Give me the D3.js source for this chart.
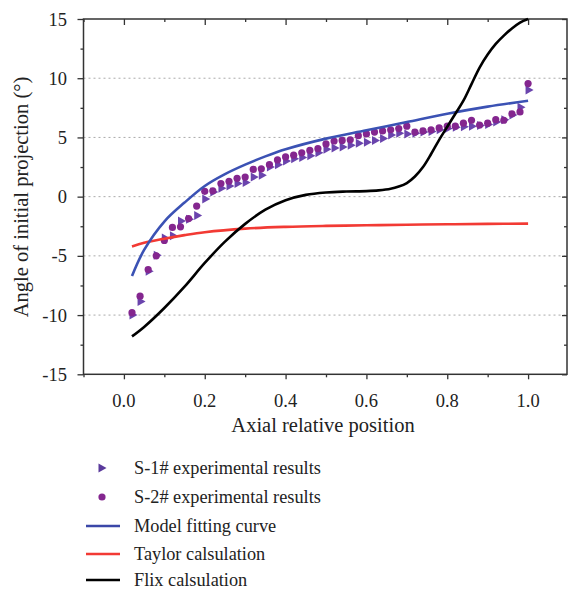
<!DOCTYPE html>
<html>
<head>
<meta charset="utf-8">
<script src="https://d3js.org/d3.v7.min.js"></script>
<style>
body { margin: 0; background: #fff; }
text { font-family: "Liberation Serif", "DejaVu Serif", serif; fill: #222; }
</style>
</head>
<body>
<div id="chart"></div>
<script>
// x positions of the measured points
var xs = d3.range(1, 51).map(function(i) { return i / 50; });

// S-1# experimental results (triangles)
var s1 = [-10.0, -8.85, -6.3, -4.95, -3.5, -3.3, -2.05, -1.9, -1.6, -0.2,
          0.4, 0.7, 0.9, 1.1, 1.2, 1.65, 1.8, 2.5, 2.7, 3.0,
          3.2, 3.3, 3.45, 3.7, 4.0, 4.1, 4.2, 4.35, 4.5, 4.6,
          4.75, 4.9, 5.2, 5.35, 5.3, 5.35, 5.45, 5.5, 5.65, 5.75,
          5.85, 5.9, 5.95, 6.0, 6.1, 6.3, 6.5, 6.9, 7.55, 9.0];

// S-2# experimental results (circles)
var s2 = [-9.8, -8.4, -6.15, -5.0, -3.7, -2.6, -2.55, -1.85, -0.8, 0.45,
          0.5, 1.1, 1.3, 1.55, 1.65, 2.3, 2.35, 2.7, 3.1, 3.35,
          3.5, 3.7, 3.9, 4.05, 4.45, 4.7, 4.75, 4.8, 5.15, 5.3,
          5.45, 5.55, 5.65, 5.75, 5.95, 5.45, 5.55, 5.65, 5.8, 5.95,
          5.95, 6.2, 6.45, 6.05, 6.2, 6.5, 6.45, 7.0, 7.15, 9.55];

// model fitting curve
var modelX = [0.02, 0.05, 0.1, 0.15, 0.2, 0.25, 0.3, 0.35, 0.4, 0.5, 0.6, 0.7, 0.8, 0.9, 1.0];
var modelY = [-6.7, -4.5, -2.1, -0.5, 0.9, 1.9, 2.7, 3.4, 4.0, 4.9, 5.6, 6.3, 7.0, 7.6, 8.1];

// Taylor calsulation
var taylorX = [0.02, 0.05, 0.1, 0.15, 0.2, 0.3, 0.4, 0.5, 0.6, 0.7, 0.8, 0.9, 1.0];
var taylorY = [-4.2, -3.9, -3.55, -3.25, -3.0, -2.7, -2.55, -2.47, -2.42, -2.37, -2.33, -2.3, -2.28];

// Flix calsulation
var flixX = [0.02, 0.05, 0.1, 0.15, 0.2, 0.25, 0.3, 0.35, 0.4, 0.45, 0.5, 0.55, 0.6, 0.63,
             0.66, 0.68, 0.7, 0.72, 0.74, 0.76, 0.78, 0.8, 0.82, 0.84, 0.86, 0.88, 0.9, 0.92,
             0.94, 0.96, 0.98, 1.0];
var flixY = [-11.8, -11.0, -9.4, -7.6, -5.6, -3.8, -2.3, -1.1, -0.3, 0.15, 0.35, 0.43, 0.47, 0.53,
             0.66, 0.85, 1.15, 1.7, 2.5, 3.6, 4.8, 5.9, 7.0, 8.1, 9.5, 10.9, 12.0, 12.9,
             13.6, 14.2, 14.7, 15.0];

var xTicks = [0.0, 0.2, 0.4, 0.6, 0.8, 1.0];
var yTicks = [-15, -10, -5, 0, 5, 10, 15];
var gridVals = [-10, -5, 0, 5, 10];

var legendItems = [
  { label: "S-1# experimental results", type: "tri" },
  { label: "S-2# experimental results", type: "dot" },
  { label: "Model fitting curve", type: "line", color: "#3b47a8" },
  { label: "Taylor calsulation", type: "line", color: "#f23a34" },
  { label: "Flix calsulation", type: "line", color: "#000" }
];

var W = 568, H = 592;
var box = { l: 83.5, r: 567, t: 19, b: 374.3 };

var svg = d3.select("#chart").append("svg")
  .attr("width", W).attr("height", H);

var x = d3.scaleLinear().domain([-0.1, 1.1]).range([box.l, box.r + 1.5]);
var y = d3.scaleLinear().domain([-15, 15]).range([box.b, box.t]);

// gridlines
svg.append("g").selectAll("line")
  .data(gridVals).enter().append("line")
  .attr("x1", box.l).attr("x2", box.r)
  .attr("y1", function(d) { return y(d); })
  .attr("y2", function(d) { return y(d); })
  .attr("stroke", "#aaa").attr("stroke-width", 1)
  .attr("stroke-dasharray", "2,3");

var axisColor = "#333";
var xMinor = d3.range(-1, 11).map(function(i) { return i / 10; });
var yMinor = d3.range(-6, 7).map(function(i) { return i * 2.5; });

// bottom axis, ticks outward
var bAx = svg.append("g").attr("transform", "translate(0," + box.b + ")");
bAx.call(d3.axisBottom(x).tickValues(xMinor).tickSize(5).tickFormat(""));
bAx.selectAll(".tick line").attr("y2", function(d) {
  return Math.round(d * 10) % 2 === 0 ? 5 : 3; });
bAx.select(".domain").remove();
bAx.selectAll("line").attr("stroke", axisColor).attr("stroke-width", 1.3);

// top axis, ticks inward
var tAx = svg.append("g").attr("transform", "translate(0," + box.t + ")");
tAx.call(d3.axisBottom(x).tickValues(xMinor).tickSize(6).tickFormat(""));
tAx.selectAll(".tick line").attr("y2", function(d) {
  return Math.round(d * 10) % 2 === 0 ? 6 : 3; });
tAx.select(".domain").remove();
tAx.selectAll("line").attr("stroke", axisColor).attr("stroke-width", 1.3);

// left axis, ticks outward
var lAx = svg.append("g").attr("transform", "translate(" + box.l + ",0)");
lAx.call(d3.axisLeft(y).tickValues(yMinor).tickSize(6).tickFormat(""));
lAx.selectAll(".tick line").attr("x2", function(d) {
  return d % 5 === 0 ? -6 : -3; });
lAx.select(".domain").remove();
lAx.selectAll("line").attr("stroke", axisColor).attr("stroke-width", 1.3);

// right axis, ticks inward
var rAx = svg.append("g").attr("transform", "translate(" + box.r + ",0)");
rAx.call(d3.axisLeft(y).tickValues(yMinor).tickSize(5).tickFormat(""));
rAx.selectAll(".tick line").attr("x2", function(d) {
  return d % 5 === 0 ? -5 : -3; });
rAx.select(".domain").remove();
rAx.selectAll("line").attr("stroke", axisColor).attr("stroke-width", 1.3);

// frame
svg.append("rect")
  .attr("x", box.l).attr("y", box.t)
  .attr("width", box.r - box.l).attr("height", box.b - box.t)
  .attr("fill", "none").attr("stroke", axisColor).attr("stroke-width", 1.5);

// tick labels
svg.append("g").selectAll("text")
  .data(xTicks).enter().append("text")
  .attr("x", function(d) { return x(d); })
  .attr("y", 407)
  .attr("text-anchor", "middle")
  .attr("font-size", 18.5)
  .text(function(d) { return d.toFixed(1); });

svg.append("g").selectAll("text")
  .data(yTicks).enter().append("text")
  .attr("x", 67)
  .attr("y", function(d) { return y(d) + 6.5; })
  .attr("text-anchor", "end")
  .attr("font-size", 18.5)
  .text(function(d) { return d; });

// axis titles
svg.append("text")
  .attr("x", 323).attr("y", 432)
  .attr("text-anchor", "middle")
  .attr("font-size", 20.5)
  .text("Axial relative position");

svg.append("text")
  .attr("transform", "translate(28,197) rotate(-90)")
  .attr("text-anchor", "middle")
  .attr("font-size", 20.5)
  .text("Angle of initial projection (°)");

// curves
var line = d3.line()
  .x(function(d) { return x(d[0]); })
  .y(function(d) { return y(d[1]); })
  .curve(d3.curveCatmullRom.alpha(0.5));

function drawCurve(xv, yv, color) {
  svg.append("path")
    .datum(d3.zip(xv, yv))
    .attr("d", line)
    .attr("fill", "none")
    .attr("stroke", color)
    .attr("stroke-width", 2.6);
}

var triPath = "M-3.5,-4.5 L4.5,0 L-3.5,4.5 Z";

// points
svg.append("g").selectAll("path")
  .data(d3.zip(xs, s1)).enter().append("path")
  .attr("d", triPath)
  .attr("transform", function(d) { return "translate(" + (x(d[0]) + 1) + "," + y(d[1]) + ")"; })
  .attr("fill", "#6a44ad");

svg.append("g").selectAll("circle")
  .data(d3.zip(xs, s2)).enter().append("circle")
  .attr("cx", function(d) { return x(d[0]); })
  .attr("cy", function(d) { return y(d[1]); })
  .attr("r", 3.6)
  .attr("fill", "#84268f");

drawCurve(taylorX, taylorY, "#f23a34");
drawCurve(modelX, modelY, "#3b52b4");
drawCurve(flixX, flixY, "#000");

// legend
var rowY = [468, 497, 526, 554, 580];
var lg = svg.append("g");
legendItems.forEach(function(it, i) {
  var cy = rowY[i];
  if (it.type === "tri") {
    lg.append("path").attr("d", triPath)
      .attr("transform", "translate(102," + cy + ")")
      .attr("fill", "#5a3a9c");
  } else if (it.type === "dot") {
    lg.append("circle").attr("cx", 102).attr("cy", cy).attr("r", 3.6)
      .attr("fill", "#84268f");
  } else {
    lg.append("line").attr("x1", 86).attr("x2", 120)
      .attr("y1", cy).attr("y2", cy)
      .attr("stroke", it.color).attr("stroke-width", 2.6);
  }
  lg.append("text")
    .attr("x", 134).attr("y", cy + 6)
    .attr("font-size", 18.3)
    .text(it.label);
});
</script>
</body>
</html>
